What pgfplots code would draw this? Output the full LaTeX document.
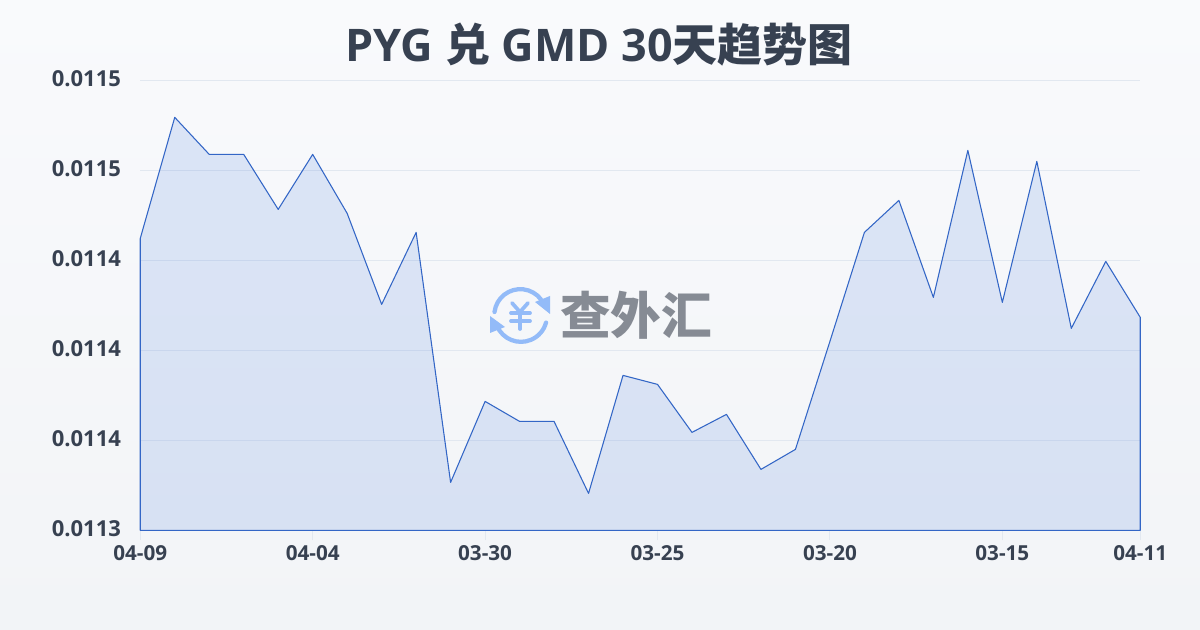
\documentclass[border=0pt]{standalone}
\usepackage{pgfplots}
\pgfplotsset{compat=1.18}
\usepackage{fontspec}
\setmainfont{Open Sans}
\newfontfamily\cjk{Noto Sans CJK SC}
\definecolor{txt}{HTML}{374151}
\definecolor{ttl}{HTML}{374151}
\definecolor{gridc}{HTML}{E2E8F0}
\definecolor{linec}{HTML}{3366C6}
\definecolor{fillc}{HTML}{3B72DC}
\definecolor{bgtop}{HTML}{F9FAFC}
\definecolor{bgbot}{HTML}{F2F4F7}
\definecolor{logoblue}{HTML}{93BBF8}
\definecolor{logogray}{HTML}{868B94}
\pgfplotstableread{
i v
0 0.01143733
1 0.01147767
2 0.01146533
3 0.01146533
4 0.01144700
5 0.01146533
6 0.01144567
7 0.01141533
8 0.01143933
9 0.01135600
10 0.01138300
11 0.01137633
12 0.01137633
13 0.01135233
14 0.01139167
15 0.01138867
16 0.01137267
17 0.01137867
18 0.01136033
19 0.01136700
20 0.01140300
21 0.01143933
22 0.01145000
23 0.01141767
24 0.01146667
25 0.01141600
26 0.01146300
27 0.01140733
28 0.01142967
29 0.01141100
}\datatable
\begin{document}
\begin{tikzpicture}[x=0.75pt,y=0.75pt]
\useasboundingbox (0,0) rectangle (1200,630);
\shade[top color=bgtop,bottom color=bgbot] (0,0) rectangle (1200,630);
\begin{axis}[
  at={(105.2pt,74.7pt)},anchor=south west,
  scale only axis,width=750pt,height=337.5pt,
  xmin=0,xmax=29,ymin=0.01134,ymax=0.01149,
  clip=false,
  axis line style={draw=none},
  scaled y ticks=false,
  xtick pos=bottom,ytick pos=left,
  xtick={0,5,10,15,20,25,29},
  xticklabels={04-09,04-04,03-30,03-25,03-20,03-15,04-11},
  ytick={0.01134,0.01137,0.0114,0.01143,0.01146,0.01149},
  yticklabels={0.0113,0.0114,0.0114,0.0114,0.0115,0.0115},
  ymajorgrids,
  grid style={draw=gridc,line width=0.75pt},
  major tick length=7.5pt,
  xtick style={draw=gridc,line width=0.75pt},
  ytick style={draw=none},
  tick align=outside,
  xticklabel style={font=\fontsize{15.5pt}{18pt}\selectfont\bfseries,text=txt,yshift=-0.5pt},
  yticklabel style={font=\fontsize{16.5pt}{20pt}\selectfont\bfseries,text=txt,xshift=-3.5pt,yshift=1.2pt},
  axis on top=false,
]
\addplot[draw=linec,line width=0.8pt,fill=fillc,fill opacity=0.15,draw opacity=1,line join=round] table[x=i,y=v]{\datatable} \closedcycle;
\end{axis}
\node[font=\fontsize{33.7pt}{38pt}\selectfont\bfseries,text=ttl,anchor=center] at (599,585) {PYG {\cjk 兑} GMD 30{\cjk 天趋势图}};
% watermark
\begin{scope}[logoblue,line width=3.2pt,line cap=round]
\draw (494.5,318) arc[start angle=173,end angle=38,radius=26];
\draw (497,304) arc[start angle=203,end angle=345,radius=26];
\fill (550,334) -- (550,316) -- (535,328) -- cycle;
\fill (490,314) -- (490,297) -- (505,303) -- cycle;
\draw[line width=2.8pt] (512,327) -- (520,318) -- (528,327);
\draw[line width=2.8pt] (520,318) -- (520,301);
\draw[line width=2.8pt] (511,317) -- (530,317);
\draw[line width=2.8pt] (511,309) -- (530,309);
\end{scope}
\node[font=\cjk\fontsize{38pt}{42pt}\selectfont\bfseries,text=logogray,anchor=center] at (636,315) {查外汇};
\end{tikzpicture}
\end{document}
